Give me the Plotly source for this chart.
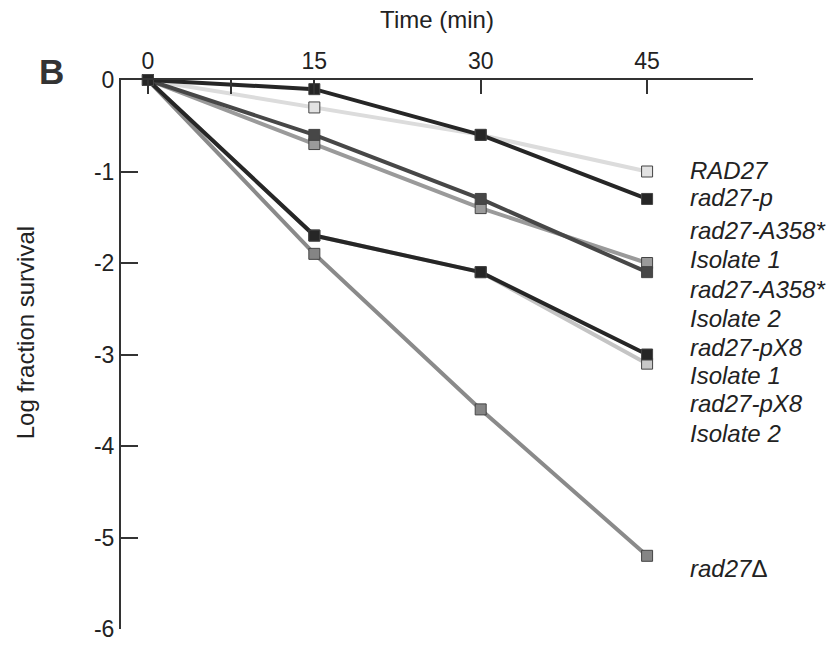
import plotly.graph_objects as go

time_min = [0, 15, 30, 45]

series_names = [
    "RAD27",
    "rad27-pX8 Isolate 2",
    "rad27-A358* Isolate 1",
    "rad27Δ",
    "rad27-A358* Isolate 2",
    "rad27-pX8 Isolate 1",
    "rad27-p",
]
series_values = [
    [0, -0.3, -0.6, -1.0],
    [0, -1.7, -2.1, -3.1],
    [0, -0.7, -1.4, -2.0],
    [0, -1.9, -3.6, -5.2],
    [0, -0.6, -1.3, -2.1],
    [0, -1.7, -2.1, -3.0],
    [0, -0.1, -0.6, -1.3],
]
line_colors = ["#dcdcdc", "#c4c4c4", "#9a9a9a", "#8a8a8a", "#474747", "#262626", "#262626"]
marker_colors = ["#e2e2e2", "#c8c8c8", "#9a9a9a", "#858585", "#474747", "#262626", "#262626"]

x_tickvals = [0, 7.5, 15, 30, 45]
x_ticktext = ["0", "", "15", "30", "45"]
y_tickvals = [0, -1, -2, -3, -4, -5, -6]
y_ticktext = ["0", "-1", "-2", "-3", "-4", "-5", "-6"]

label_texts = ["<i>RAD27</i>", "<i>rad27-p</i>", "<i>rad27-A358*</i>", "<i>Isolate 1</i>",
               "<i>rad27-A358*</i>", "<i>Isolate 2</i>", "<i>rad27-pX8</i>", "<i>Isolate 1</i>",
               "<i>rad27-pX8</i>", "<i>Isolate 2</i>", "<i>rad27</i>Δ"]
label_y = [-0.99, -1.28, -1.65, -1.96, -2.29, -2.61, -2.92, -3.23, -3.54, -3.86, -5.34]
label_x = 48.7

FONT = "Liberation Sans, Arial, sans-serif"
L, R, T, B = 121, 84, 80, 17
W, H = 837, 654
pw, ph = W - L - R, H - T - B


def px_to_paper(px, py):
    return (px - L) / pw, (H - B - py) / ph


fig = go.Figure()
for name, vals, lc, mc in zip(series_names, series_values, line_colors, marker_colors):
    fig.add_trace(go.Scatter(
        x=time_min, y=vals, name=name, mode="lines+markers",
        line=dict(color=lc, width=4),
        marker=dict(symbol="square", size=11, color=mc, line=dict(color="#444444", width=1)),
        cliponaxis=False,
    ))

for t, yv in zip(label_texts, label_y):
    fig.add_annotation(x=label_x, y=yv, xref="x", yref="y", text=t,
                       showarrow=False, xanchor="left", yanchor="middle",
                       font=dict(size=24, color="#222222", family=FONT))

bx, by = px_to_paper(51, 71)
fig.add_annotation(x=bx, y=by, xref="paper", yref="paper", text="<b>B</b>", showarrow=False,
                   xanchor="center", yanchor="middle",
                   font=dict(size=35, color="#333333", family=FONT))

yx, yy = px_to_paper(25, 337)
fig.add_annotation(x=yx, y=yy, xref="paper", yref="paper", text="Log fraction survival",
                   showarrow=False, textangle=-90, xanchor="center", yanchor="middle",
                   font=dict(size=24, color="#222222", family=FONT))

fig.update_layout(
    width=W, height=H,
    margin=dict(l=L, r=R, t=T, b=B),
    plot_bgcolor="white", paper_bgcolor="white",
    showlegend=False,
    font=dict(family=FONT, color="#222222", size=23),
    xaxis=dict(side="top", range=[-2.43, 54.55], tickvals=x_tickvals, ticktext=x_ticktext,
               showline=True, linecolor="#333333", linewidth=2, ticks="inside", ticklen=14,
               tickwidth=2, tickcolor="#333333", showgrid=False, zeroline=False,
               title=dict(text="Time (min)", font=dict(size=24), standoff=12),
               tickfont=dict(size=23)),
    yaxis=dict(range=[-6, 0], tickvals=y_tickvals, ticktext=y_ticktext, showline=True,
               linecolor="#333333", linewidth=2, ticks="inside", ticklen=17, tickwidth=2,
               tickcolor="#333333", showgrid=False, zeroline=False, tickfont=dict(size=23)),
)

fig.write_html("out.html")
